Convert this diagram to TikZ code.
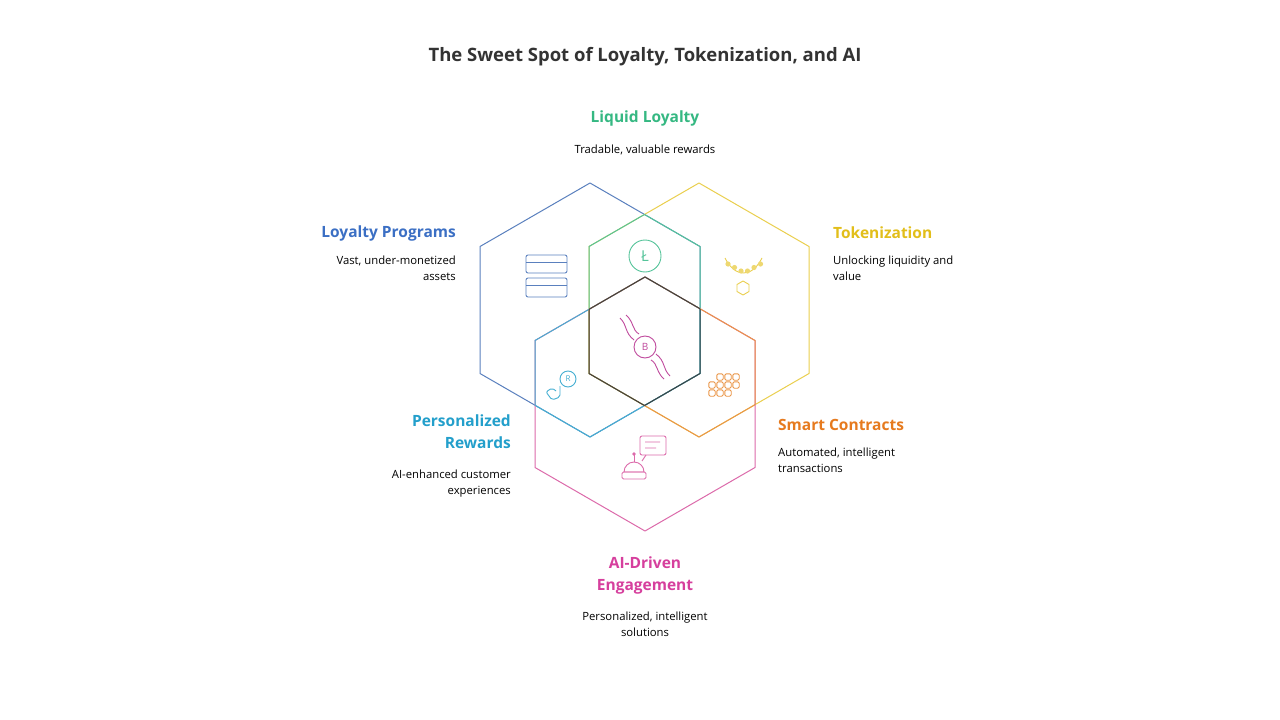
\documentclass[tikz,border=0pt]{standalone}
\usepackage{fontspec}
\setmainfont{Open Sans}
\begin{document}
\begin{tikzpicture}[x=1pt,y=-1pt,line join=round,
  hexline/.style={line width=1pt},
  ttl/.style={font=\bfseries\fontsize{15.5}{22}\selectfont,inner sep=0},
  dsc/.style={font=\fontsize{11.3}{16}\selectfont,inner sep=0},
  ico/.style={line width=0.9pt}]
\definecolor{cB}{HTML}{5A80BE}\definecolor{cY}{HTML}{EACF4E}\definecolor{cP}{HTML}{DC6AAA}
\definecolor{cG}{HTML}{55C49A}\definecolor{cC}{HTML}{45AFD2}\definecolor{cO}{HTML}{EA9648}
\definecolor{tB}{HTML}{3B6FC4}\definecolor{tY}{HTML}{E2BE1A}\definecolor{tP}{HTML}{D63F9D}
\definecolor{tG}{HTML}{35B882}\definecolor{tC}{HTML}{239FCB}\definecolor{tO}{HTML}{E67A1E}
\path[use as bounding box] (0,0) rectangle (1280,720);
\fill[white] (0,0) rectangle (1280,720);
\def\hexB{(590,183)--(700,246.5)--(700,373.5)--(590,437)--(480,373.5)--(480,246.5)--cycle}
\def\hexY{(699,183)--(809,246.5)--(809,373.5)--(699,437)--(589,373.5)--(589,246.5)--cycle}
\def\hexP{(645,277)--(755,340.5)--(755,467.5)--(645,531)--(535,467.5)--(535,340.5)--cycle}
\draw[hexline,cB] \hexB; \draw[hexline,cY] \hexY; \draw[hexline,cP] \hexP;
\begin{scope}\clip \hexY; \draw[hexline,cG] \hexB; \end{scope}
\begin{scope}\clip \hexB; \draw[hexline,cG] \hexY; \end{scope}
\begin{scope}\clip \hexP; \draw[hexline,cC] \hexB; \end{scope}
\begin{scope}\clip \hexB; \draw[hexline,cC] \hexP; \end{scope}
\begin{scope}\clip \hexP; \draw[hexline,cO] \hexY; \end{scope}
\begin{scope}\clip \hexY; \draw[hexline,cO] \hexP; \end{scope}
\begin{scope}\clip \hexB; \clip \hexY; \draw[hexline,black!75] \hexP; \end{scope}
\begin{scope}\clip \hexB; \clip \hexP; \draw[hexline,black!75] \hexY; \end{scope}
\begin{scope}\clip \hexY; \clip \hexP; \draw[hexline,black!75] \hexB; \end{scope}
% texts
\node[font=\bfseries\fontsize{18.5}{22}\selectfont,text=black!80] (title) at (645,57) {The Sweet Spot of Loyalty, Tokenization, and AI};
\node[ttl,text=tG] (lqT) at (645,118) {Liquid Loyalty};
\node[dsc] (lqD) at (645,150) {Tradable, valuable rewards};
\node[ttl,text=tB,anchor=east] (lpT) at (456,233) {Loyalty Programs};
\node[dsc,anchor=north east,align=right] (lpD) at (456,256) {Vast, under-monetized\\assets};
\node[ttl,text=tY,anchor=west] (tkT) at (833,233) {Tokenization};
\node[dsc,anchor=north west,align=left] (tkD) at (833,256) {Unlocking liquidity and\\value};
\node[ttl,text=tC,anchor=north east,align=right] (prT) at (511,415) {Personalized\\Rewards};
\node[dsc,anchor=north east,align=right] (prD) at (511,470) {AI-enhanced customer\\experiences};
\node[ttl,text=tO,anchor=west] (scT) at (778,425) {Smart Contracts};
\node[dsc,anchor=north west,align=left] (scD) at (778,448) {Automated, intelligent\\transactions};
\node[ttl,text=tP,anchor=north,align=center] (aiT) at (645,557) {AI-Driven\\Engagement};
\node[dsc,anchor=north,align=center] (aiD) at (645,612) {Personalized, intelligent\\solutions};
% icons
\draw[ico,cB,rounded corners=2pt] (526,255) rectangle (567,273) (526,278) rectangle (567,297);
\draw[ico,cB] (526,262)--(567,262) (526,285)--(567,285);
\draw[ico,cG] (645,256) circle (16);
\node[text=cG,font=\fontsize{15}{15}\selectfont] at (645,256) {Ł};
\draw[ico,cY] (725,258) .. controls (735,278) and (752,278) .. (762,258);
\foreach \a in {0,...,5}{\fill[cY!80] ({728+\a*6.5},{264+(\a<3?\a*3.5:(5-\a)*3.5)}) circle (2.6);}
\draw[ico,cY] (743,281)--(749,284.5)--(749,291.5)--(743,295)--(737,291.5)--(737,284.5)--cycle;
\draw[ico,cP!70!violet] (645,347) circle (11);
\node[text=cP!70!violet,font=\fontsize{10}{10}\selectfont] at (645,347) {B};
\draw[ico,cP!70!violet] (620,318) .. controls (628,326) and (624,332) .. (634,340) (626,315) .. controls (634,322) and (632,330) .. (639,334)
  (670,376) .. controls (662,368) and (666,362) .. (656,354) (664,379) .. controls (656,372) and (658,364) .. (651,360);
\draw[ico,cC] (568,379) circle (8);
\node[text=cC,font=\fontsize{8}{8}\selectfont] at (568,379) {R};
\draw[ico,cC,rounded corners=2pt] (560,386)--(560,397)--(552,400)--(546,392)--(552,388)--(556,391);
\foreach \p in {(720,377),(728,377),(736,377),(712,385),(720,385),(728,385),(736,385),(712,393),(720,393),(728,393)}
  \draw[ico,cO,rounded corners=1.5pt] \p ++(-3.2,-3.2) rectangle ++(6.4,6.4);
\draw[ico,cP,rounded corners=2pt] (640,436) rectangle (666,455);
\draw[ico,cP] (645,442)--(660,442) (645,448)--(656,448) (646,455)--(642,461);
\draw[ico,cP] (624,472) arc (180:360:10) -- cycle;
\draw[ico,cP,rounded corners=1.5pt] (622,472) rectangle (646,479);
\draw[ico,cP] (634,462)--(634,455); \fill[cP] (634,454) circle (1.8);
\end{tikzpicture}
\end{document}
